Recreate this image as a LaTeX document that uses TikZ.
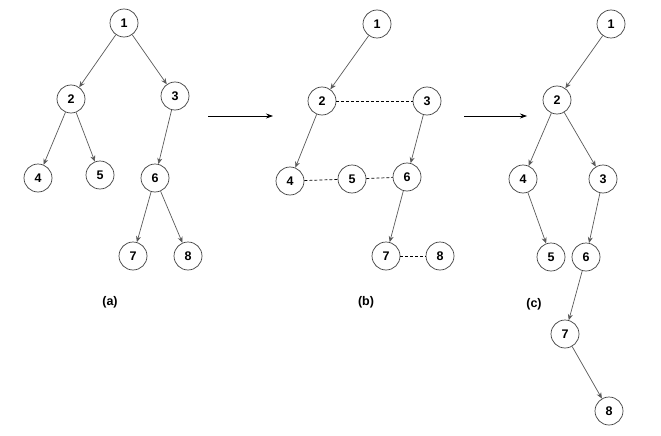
\documentclass[tikz,border=0pt]{standalone}
\usepackage{fontspec}
\setmainfont{Liberation Sans}
\usetikzlibrary{arrows.meta,positioning,shapes}

\begin{document}
\begin{tikzpicture}[x=1pt,y=-1pt,
  vert/.style={draw=black!75,circle,fill=white,minimum size=28pt,inner sep=0pt,line width=0.7pt,font=\fontsize{12.5}{14}\selectfont\bfseries},
  edge/.style={-{Stealth[length=6pt,width=5pt]},draw=black!65,line width=0.7pt},
  link/.style={densely dashed,line width=0.7pt},
  step arrow/.style={-{Stealth[length=7pt,width=5pt]},line width=0.7pt},
  caption/.style={font=\fontsize{12.5}{14}\selectfont\bfseries}]
\useasboundingbox (0,0) rectangle (661,436);
% (a)
\node[vert] (a1) at (124,23) {1};
\node[vert] (a2) at (71,99) {2};
\node[vert] (a3) at (175,96) {3};
\node[vert] (a4) at (38,178) {4};
\node[vert] (a5) at (100,175) {5};
\node[vert] (a6) at (155,178) {6};
\node[vert] (a7) at (133,256) {7};
\node[vert] (a8) at (188,256) {8};
\draw[edge] (a1) to (a2);
\draw[edge] (a1) to (a3);
\draw[edge] (a2) to (a4);
\draw[edge] (a2) to (a5);
\draw[edge] (a3) to (a6);
\draw[edge] (a6) to (a7);
\draw[edge] (a6) to (a8);
\node[caption] (capa) at (110,302) {(a)};
% (b)
\node[vert] (b1) at (377,24) {1};
\node[vert] (b2) at (322,101) {2};
\node[vert] (b3) at (427,101) {3};
\node[vert] (b4) at (290,181) {4};
\node[vert] (b5) at (352,179) {5};
\node[vert] (b6) at (407,177) {6};
\node[vert] (b7) at (386,256) {7};
\node[vert] (b8) at (440,256) {8};
\draw[edge] (b1) to (b2);
\draw[edge] (b2) to (b4);
\draw[edge] (b3) to (b6);
\draw[edge] (b6) to (b7);
\draw[link] (b2) to (b3);
\draw[link] (b4) to (b5);
\draw[link] (b5) to (b6);
\draw[link] (b7) to (b8);
\node[caption] (capb) at (366,302) {(b)};
% (c)
\node[vert] (c1) at (611,24) {1};
\node[vert] (c2) at (557,100) {2};
\node[vert] (c4) at (523,179) {4};
\node[vert] (c3) at (603,179) {3};
\node[vert] (c5) at (551,257) {5};
\node[vert] (c6) at (586,257) {6};
\node[vert] (c7) at (565,334) {7};
\node[vert] (c8) at (609,411) {8};
\draw[edge] (c1) to (c2);
\draw[edge] (c2) to (c4);
\draw[edge] (c2) to (c3);
\draw[edge] (c4) to (c5);
\draw[edge] (c3) to (c6);
\draw[edge] (c6) to (c7);
\draw[edge] (c7) to (c8);
\node[caption] (capc) at (534,304) {(c)};
% steps
\coordinate (s1) at (208,116);
\coordinate (t1) at (273,116);
\coordinate (s2) at (464,116);
\coordinate (t2) at (527,116);
\draw[step arrow] (s1) -- (t1);
\draw[step arrow] (s2) -- (t2);
\end{tikzpicture}
\end{document}
